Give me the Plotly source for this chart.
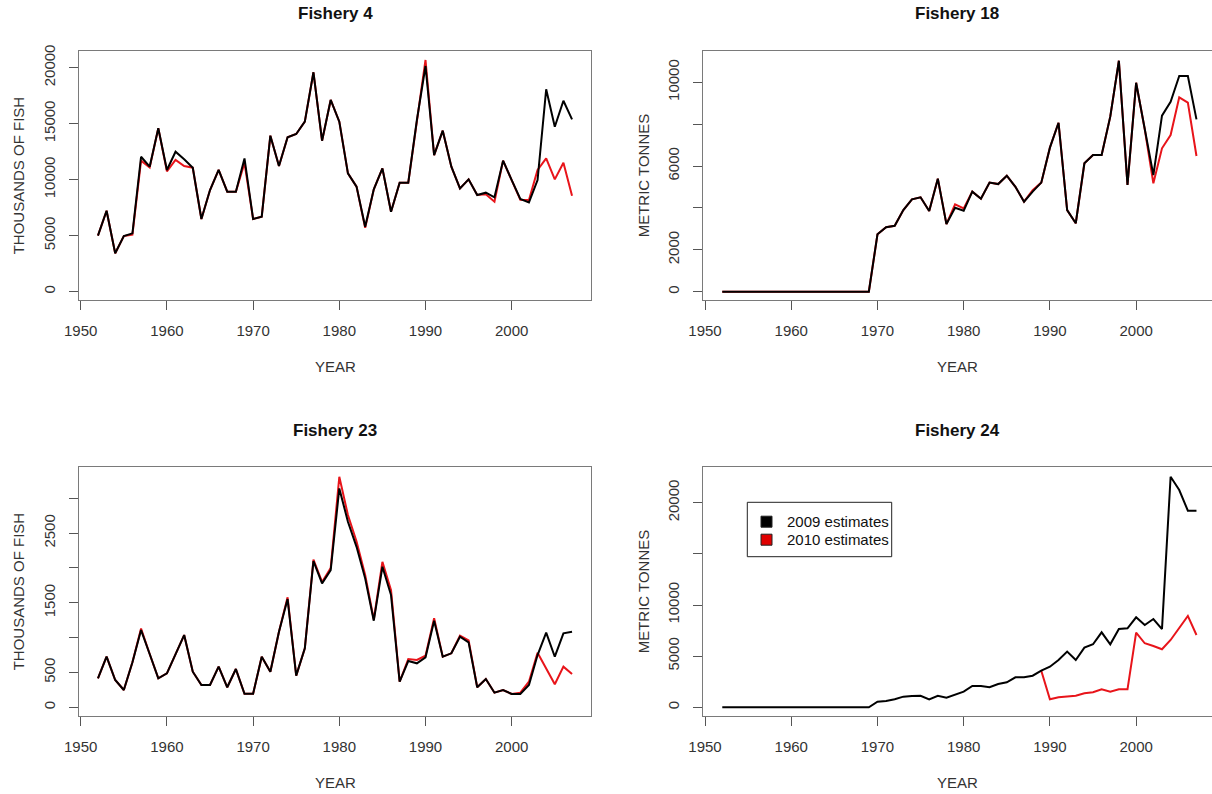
import plotly.graph_objects as go

W, H = 1212, 794

YEARS = list(range(1952, 2008))

# Fishery 4 (thousands of fish)
F4_2009 = [5000, 7230, 3430, 4970, 5210, 12050, 11160, 14590, 10870, 12500,
           11820, 11070, 6490, 9080, 10870, 8930, 8930, 11900, 6490, 6700,
           13930, 11220, 13790, 14080, 15180, 19590, 13480, 17120, 15180, 10570,
           9380, 5800, 9140, 11010, 7140, 9730, 9730, 15330, 20150, 12200,
           14380, 11160, 9230, 10030, 8630, 8840, 8430, 11700, 9970, 8280,
           7980, 9970, 18070, 14730, 17050, 15390]
F4_2010 = [5000, 7230, 3430, 4970, 5100, 11700, 11100, 14590, 10750, 11760,
           11220, 11070, 6490, 9080, 10870, 8930, 8930, 11500, 6490, 6700,
           13930, 11220, 13790, 14080, 15180, 19590, 13480, 17120, 15180, 10570,
           9380, 5700, 9140, 11010, 7140, 9730, 9730, 15330, 20690, 12200,
           14380, 11160, 9230, 10030, 8630, 8700, 8040, 11700, 9970, 8200,
           8180, 10870, 11910, 10030, 11520, 8570]

# Fishery 18 (metric tonnes)
F18_2009 = [0] * 18 + [2740, 3080, 3150, 3900, 4410, 4510, 3850, 5400, 3230, 4010,
                       3870, 4780, 4440, 5210, 5140, 5540, 5010, 4300, 4780, 5210,
                       6880, 8070, 3900, 3270, 6130, 6530, 6530, 8360, 11030, 5100,
                       9980, 7760, 5570, 8410, 9070, 10300, 10300, 8230]
F18_2010 = [0] * 18 + [2740, 3080, 3150, 3900, 4410, 4510, 3850, 5400, 3230, 4170,
                       3980, 4780, 4440, 5210, 5140, 5540, 5010, 4300, 4850, 5210,
                       6880, 8070, 3900, 3270, 6130, 6530, 6530, 8360, 11030, 5100,
                       9980, 7760, 5180, 6850, 7480, 9280, 9030, 6480]

# Fishery 23 (thousands of fish)
F23_2009 = [416, 726, 392, 248, 646, 1109, 765, 416, 488, 769,
            1037, 511, 320, 320, 583, 287, 549, 195, 195, 726,
            511, 1085, 1554, 454, 846, 2099, 1779, 1970, 3142, 2663,
            2304, 1851, 1243, 2018, 1611, 367, 664, 631, 717, 1243,
            726, 775, 1013, 932, 287, 406, 210, 248, 191, 191,
            320, 750, 1071, 726, 1062, 1085]
F23_2010 = [416, 726, 392, 248, 646, 1130, 765, 416, 488, 769,
            1037, 511, 320, 320, 583, 287, 549, 195, 195, 726,
            511, 1085, 1580, 454, 846, 2120, 1800, 2000, 3309, 2760,
            2380, 1900, 1260, 2089, 1680, 367, 693, 680, 740, 1277,
            726, 775, 1030, 960, 287, 406, 210, 248, 191, 210,
            367, 784, 560, 330, 583, 478]

# Fishery 24 (metric tonnes)
F24_2009 = [0] * 18 + [550, 620, 780, 1040, 1100, 1130, 780, 1130, 940, 1270,
                       1530, 2080, 2080, 1960, 2280, 2440, 2930, 2930, 3090, 3580,
                       3970, 4620, 5440, 4620, 5830, 6160, 7330, 6160, 7650, 7720,
                       8800, 8050, 8630, 7650, 22540, 21240, 19220, 19220]
F24_2010 = [None] * 37 + [3580, 780, 980, 1040, 1130, 1370, 1470, 1760, 1530, 1760,
                          1760, 7300, 6260, 5990, 5670, 6580, 7720, 8930, 7070]

TITLES = ["Fishery 4", "Fishery 18", "Fishery 23", "Fishery 24"]
YLABELS = ["THOUSANDS OF FISH", "METRIC TONNES", "THOUSANDS OF FISH", "METRIC TONNES"]
SERIES_NAMES = ["2009 estimates", "2010 estimates"]
Y_TICKVALS = [[0, 5000, 10000, 15000, 20000],
              [0, 2000, 4000, 6000, 8000, 10000],
              [0, 500, 1000, 1500, 2000, 2500, 3000],
              [0, 5000, 10000, 15000, 20000]]
Y_TICKTEXT = [["0", "5000", "10000", "15000", "20000"],
              ["0", "2000", "", "6000", "", "10000"],
              ["0", "500", "", "1500", "", "2500", ""],
              ["0", "5000", "10000", "", "20000"]]
X_TICKVALS = [1950, 1960, 1970, 1980, 1990, 2000]
Y_RANGES = [[-741, 21518], [-396, 11510], [-125, 3454], [-850, 23519]]

DATA = [(F4_2009, F4_2010), (F18_2009, F18_2010), (F23_2009, F23_2010), (F24_2009, F24_2010)]

FONT = "Liberation Sans, Arial, sans-serif"
BLACK = "#000000"
RED = "#E8141A"
LINEC = "#7a7a7a"
TXT = "#333333"


def px(x):
    return x / W


def py(y):
    return 1 - y / H


# panel boxes in pixels: (left, right, top, bottom)
BOXES = [(79, 591, 50.7, 300), (703.3, 1212, 50.7, 300),
         (79, 591, 466.7, 716), (703.3, 1212, 466.7, 716)]
X_RANGES = [[1949.8, 2009.2], [1949.8, 2008.8], [1949.8, 2009.2], [1949.8, 2008.8]]
TITLE_X = [335, 957, 335, 957]
YLAB_X = [18, 643, 18, 643]

fig = go.Figure()
layout = dict(template="none", width=W, height=H, margin=dict(l=0, r=0, t=0, b=0, pad=0, autoexpand=False),
              paper_bgcolor="white", plot_bgcolor="white", showlegend=False,
              font=dict(family=FONT, color=TXT, size=15))
annotations = []
shapes = []

for i in range(4):
    xa = "x" if i == 0 else f"x{i+1}"
    ya = "y" if i == 0 else f"y{i+1}"
    b2009, b2010 = DATA[i]
    fig.add_trace(go.Scatter(x=YEARS, y=b2010, mode="lines", xaxis=xa, yaxis=ya,
                             line=dict(color=RED, width=2), name=SERIES_NAMES[1],
                             connectgaps=False))
    fig.add_trace(go.Scatter(x=YEARS, y=b2009, mode="lines", xaxis=xa, yaxis=ya,
                             line=dict(color=BLACK, width=2), name=SERIES_NAMES[0]))
    l, r, t, bt = BOXES[i]
    right_cut = i in (1, 3)
    xkey = "xaxis" if i == 0 else f"xaxis{i+1}"
    ykey = "yaxis" if i == 0 else f"yaxis{i+1}"
    layout[xkey] = dict(domain=[px(l), px(r)], anchor=ya, range=X_RANGES[i],
                        automargin=False,
                        showgrid=False, zeroline=False, showline=True, mirror=True,
                        linecolor=LINEC, linewidth=1, ticks="outside", ticklen=9,
                        tickcolor="#555555", tickvals=X_TICKVALS,
                        ticktext=[str(v) for v in X_TICKVALS],
                        tickfont=dict(family=FONT, size=15, color=TXT),
                        ticklabelstandoff=8)
    layout[ykey] = dict(domain=[py(bt), py(t)], anchor=xa, range=Y_RANGES[i],
                        automargin=False,
                        showgrid=False, zeroline=False, showline=True,
                        mirror=(not right_cut), linecolor=LINEC, linewidth=1,
                        ticks="outside", ticklen=9, tickcolor="#555555",
                        tickvals=Y_TICKVALS[i], ticktext=Y_TICKTEXT[i], tickangle=-90,
                        tickfont=dict(family=FONT, size=15, color=TXT),
                        ticklabelstandoff=8)
    # title
    annotations.append(dict(text=f"<b>{TITLES[i]}</b>", x=px(TITLE_X[i]), y=py(t - 36.7),
                            xref="paper", yref="paper", showarrow=False,
                            xanchor="center", yanchor="middle",
                            font=dict(family=FONT, size=17, color="#111111")))
    # x label
    annotations.append(dict(text="YEAR", x=px(TITLE_X[i]), y=py(bt + 66),
                            xref="paper", yref="paper", showarrow=False,
                            xanchor="center", yanchor="middle",
                            font=dict(family=FONT, size=15, color=TXT)))
    # y label
    annotations.append(dict(text=YLABELS[i], x=px(YLAB_X[i]), y=py((t + bt) / 2),
                            xref="paper", yref="paper", showarrow=False, textangle=-90,
                            xanchor="center", yanchor="middle",
                            font=dict(family=FONT, size=15, color=TXT)))

# legend (drawn in panel 4)
shapes.append(dict(type="rect", xref="paper", yref="paper", x0=px(747.3), x1=px(891.7),
                   y0=py(556.7), y1=py(502.3), line=dict(color="#222222", width=1),
                   fillcolor="white", layer="above"))
LEG_COLORS = [BLACK, "#E00000"]
for k, name in enumerate(SERIES_NAMES):
    yc = 521.7 + k * 18
    shapes.append(dict(type="rect", xref="paper", yref="paper", x0=px(761), x1=px(772),
                       y0=py(yc + 5.5), y1=py(yc - 5.5), line=dict(color="#222222", width=1),
                       fillcolor=LEG_COLORS[k], layer="above"))
    annotations.append(dict(text=name, x=px(785), y=py(yc), xref="paper", yref="paper",
                            showarrow=False, xanchor="left", yanchor="middle",
                            font=dict(family=FONT, size=15, color="#111111")))

layout["annotations"] = annotations
layout["shapes"] = shapes
fig.update_layout(**layout)
fig.write_html("out.html")
